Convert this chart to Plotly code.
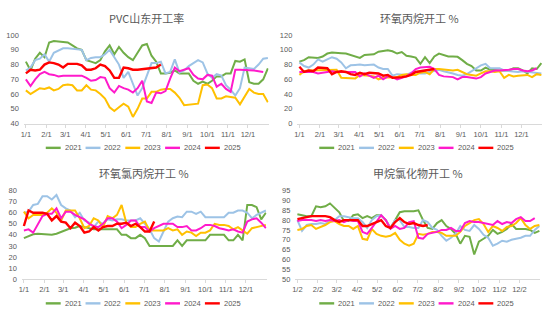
import plotly.graph_objects as go

# ---- weekly operating-rate data (%), one list per year ----
years = ["2021", "2022", "2023", "2024", "2025"]
colors = ["#70AD47", "#9DC3E6", "#FFC000", "#FF1ACB", "#FF0000"]

pvc_2021 = [82, 76, 84, 88, 85, 95, 96, 95.5, 95.5, 95, 93, 91, 90, 83, 82, 81, 83, 89, 93, 87,
            92, 88, 85, 83, 88, 93, 94, 86, 82, 74, 74, 74.5, 76, 74, 74, 74, 69, 67, 68.5, 67,
            69, 72, 72, 74, 74, 82.5, 82, 83.5, 68, 67, 67, 70, 77.5]
pvc_2022 = [76, 78, 83, 84, 87, 82, 88, 89.5, 91, 91, 90.5, 90.5, 90, 83, 84.5, 85, 85, 87, 90, 85,
            80, 71, 75, 67, 59, 64, 72, 81, 81, 82, 74, 75, 83.5, 74.5, 76, 79, 81, 83, 81.5, 74,
            71, 73.5, 72.5, 66, 63, 59, 64, 78, 77.5, 77, 80, 84, 84.5]
pvc_2023 = [62.5, 60, 62, 64, 63.5, 64.5, 62.5, 63.5, 66, 66.5, 66, 62.5, 62.5, 66, 63, 62.5, 60, 57,
            51, 48.5, 51, 53.5, 51.5, 44.5, 50, 57, 57, 61.5, 61.5, 63, 63.5, 63.5, 61, 57.5, 52.5, 53,
            53.5, 53.5, 66, 66.5, 64, 57, 57, 58.5, 58, 57.5, 53, 58, 63.5, 61, 60, 60, 54.5]
pvc_2024 = [70, 65.5, 70, 73.5, 75, 73.5, 73, 72, 72.5, 72.5, 72, 72, 72.5, 71, 69, 69.5, 71.5, 71,
            64, 61, 65.5, 64, 63, 61, 64, 69, 55, 54, 61, 60.5, 62, 70.5, 78, 75.5, 76.5, 77.5, 73,
            70.5, 70, 73, 72.5, 65, 67, 63.5, 61.5, 76.5, 76.5, 76.5, 76.5, 76, 75.5, 75]
pvc_2025 = [74, 76.5, 76, 76.5, 80, 81.5, 81, 80, 78, 80.5, 80.5, 80.5, 79.5, 76.5, 76.5, 77.5, 80,
            79, 76, 71, 71, 78, 77.5, 76.5, 76.5, 77, 77, 77.5, 78, 80]

po_2021 = [84, 86, 90, 89.5, 89, 91, 95, 96.5, 96.5, 95.5, 95, 93, 91, 89, 93, 94, 94, 97.5, 99, 99.5,
           98, 95, 97, 92, 91, 89.5, 81, 90, 82, 91, 95, 93, 91, 91, 90.5, 86, 81, 78, 72, 72,
           76, 73, 72, 72, 72, 72, 75, 75, 72, 68, 75, 74, 82]
po_2022 = [83, 78, 76, 80, 87, 84, 87, 90, 88, 83, 75, 79, 79.5, 80, 79, 79, 80, 76, 74, 74, 65, 67,
           67, 66, 69, 70, 68, 68, 70, 72, 73, 71, 70, 68, 66, 65, 67, 71, 76, 79, 81, 75, 75, 75,
           72, 71, 70, 70, 71, 70, 70, 69, 68]
po_2023 = [66, 71, 72, 72, 72, 73, 72, 72, 73, 62, 62, 62, 61, 66, 66, 65, 64, 60, 62, 62, 62, 63,
           66, 67, 66, 66, 69, 70, 67, 74, 74, 73, 72, 72, 73, 70, 67, 66, 65, 68, 71, 71, 70, 71,
           62, 66, 64, 65, 66, 66, 63, 67, 66]
po_2024 = [70, 70, 69, 70, 68, 69, 70, 71, 70, 70, 71, 71, 70, 64, 68, 65, 62, 65, 60, 64, 63, 60,
           62, 64, 68, 74, 76, 77, 77, 74, 66, 64, 64, 63, 60, 63, 63, 62, 61, 63, 68, 70, 72, 72,
           72, 73, 74, 74, 72, 71, 72, 75]
po_2025 = [77, 70, 72, 71, 76, 76, 75, 67, 70, 71, 70, 67, 66, 69, 67, 69, 69, 68, 65, 66, 62, 62,
           63, 64, 66, 70, 71, 71, 72, 74]

ech_2021 = [37, 39, 40.5, 41, 40.5, 40, 40, 41, 42.5, 44, 46, 46.5, 48, 47, 46, 45, 45, 45, 45, 45,
            45, 40, 40, 37, 37, 40, 37, 30, 30, 30, 30, 30, 30, 35, 30, 35, 35, 35, 35, 35, 40, 40,
            40, 40, 35, 35, 40, 35, 67, 67, 65, 54, 60]
ech_2022 = [60, 61, 67, 68, 75, 75, 72, 76, 67, 64, 62, 56, 60, 53, 51, 47, 52, 50, 54, 53, 54, 54,
            53, 53, 53, 55, 50, 45, 37, 34, 43, 52, 55, 56.5, 56, 61, 61, 59, 61, 56, 56, 56, 56, 56,
            60, 60, 62, 62, 60, 55, 58, 60, 62]
ech_2023 = [61, 55, 58, 58, 58, 60, 64, 60, 53, 62, 62, 62, 55, 46, 48, 55, 53, 47, 57, 55, 58, 67,
            51, 47, 47, 50, 52, 44, 44, 44, 44, 46, 44, 45, 40, 43, 42, 39, 42, 42, 44, 50, 49, 49,
            48, 45, 47, 44, 41, 46, 47, 48, 49]
ech_2024 = [44, 45, 42, 50, 57, 59, 59, 64, 55, 61, 61, 58, 56, 54, 50, 48, 47, 50, 55, 55, 52, 46,
            49, 53, 53, 47, 47, 43, 46, 48, 50, 50, 50, 47, 47, 48, 44, 44, 46, 49, 49, 48, 46, 45,
            44, 45, 43, 42, 52, 54, 55, 51, 46]
ech_2025 = [48, 62, 60, 60, 60, 59, 53, 57, 52, 51, 46, 51, 48, 42, 43, 47, 44, 47, 48, 48, 50, 50,
            51, 48, 50, 47, 43, 43, 52]

cm_2021 = [83, 82.5, 82, 82, 87, 86.5, 87, 88.5, 86, 84, 79.5, 79.5, 82.5, 83, 81, 82, 81, 82.5, 82.5,
           80, 76, 80, 84, 84.5, 84.5, 84.5, 85, 80, 76, 75.5, 78.5, 80, 77, 75.5, 73, 68, 72, 71.5,
           62.5, 69, 70.5, 72, 75, 73, 74, 75.5, 78, 75.5, 75.5, 75.5, 75, 73.5, 74.5]
cm_2022 = [80, 74.5, 77.5, 78, 78, 78.5, 78, 80, 80, 82, 82, 81.5, 81, 81, 79, 76, 80, 82, 82.5, 80,
           76, 80, 80, 76.5, 76.5, 76, 76, 80, 79, 76, 75, 72, 69.5, 71, 73, 77, 75, 74.5, 77.5, 75.5,
           72.5, 71, 67, 68, 69.5, 69, 70, 70.5, 71, 72, 72, 75, 77]
cm_2023 = [75, 75.5, 77, 77.5, 75.5, 76.5, 77.5, 79, 79.5, 78, 77, 77, 75.5, 77, 70.5, 70, 75.5, 73,
           72, 71.5, 72, 73.5, 70, 68, 67, 68, 73, 72.5, 73, 74, 74, 73.5, 72, 72, 72, 74, 77, 78.5,
           80, 80.5, 78, 74, 77, 76, 74.5, 76.5, 77, 78.5, 81, 77.5, 75.5, 77, 77.5]
cm_2024 = [79.5, 80, 80, 80, 79.5, 80, 79.5, 80, 79.5, 80, 79, 80, 79.5, 79.5, 74, 73, 76, 79, 82.5,
           80, 75.5, 77, 75.5, 76, 79, 79.5, 71, 70.5, 73, 73.5, 74, 75, 75, 76, 74.5, 74.5, 78.5,
           79.5, 79, 79, 78.5, 78, 77.5, 79.5, 78, 79, 78.5, 80.5, 81.5, 79.5, 79.5, 81]
cm_2025 = [80.5, 81, 81.5, 82, 82, 82, 82, 81.5, 80, 79, 80, 80, 80, 80, 77, 77, 78, 79, 80, 77, 76,
           79, 81, 79, 78, 78.5, 77.5, 77, 77.5]

month_start_days = [0, 31, 59, 90, 120, 151, 181, 212, 243, 273, 304, 334]
month_labels_1st = ["1/1", "2/1", "3/1", "4/1", "5/1", "6/1", "7/1", "8/1", "9/1", "10/1", "11/1", "12/1"]
month_labels_2nd = ["1/2", "2/2", "3/2", "4/2", "5/2", "6/2", "7/2", "8/2", "9/2", "10/2", "11/2", "12/2"]

# panel definitions: title, series, y-axis range/step, day offset of first week, tick labels
panels = [
    dict(title="PVC山东开工率", data=[pvc_2021, pvc_2022, pvc_2023, pvc_2024, pvc_2025],
         yr=(40, 100), dy=10, off=0, labels=month_labels_1st,
         xd=(21, 267), yd=(32, 123), ty=14, ly=148, lx=43),
    dict(title="环氧丙烷开工 %", data=[po_2021, po_2022, po_2023, po_2024, po_2025],
         yr=(0, 120), dy=20, off=0, labels=month_labels_1st,
         xd=(296, 542), yd=(32, 123), ty=14, ly=148, lx=318),
    dict(title="环氧氯丙烷开工 %", data=[ech_2021, ech_2022, ech_2023, ech_2024, ech_2025],
         yr=(0, 80), dy=10, off=0, labels=month_labels_1st,
         xd=(19, 265), yd=(192, 283), ty=174, ly=308, lx=43),
    dict(title="甲烷氯化物开工 %", data=[cm_2021, cm_2022, cm_2023, cm_2024, cm_2025],
         yr=(50, 95), dy=5, off=1, labels=month_labels_2nd,
         xd=(294, 540), yd=(192, 283), ty=174, ly=308, lx=318),
]

W, H = 550, 321
AXIS_GREY = "#D9D9D9"
TEXT_GREY = "#595959"
TICK_FONT = dict(family="Liberation Sans, Arial", size=7.5, color=TEXT_GREY)

fig = go.Figure()
layout = dict(width=W, height=H, margin=dict(l=0, r=0, t=0, b=0),
              paper_bgcolor="white", plot_bgcolor="white", showlegend=False)
annotations = []
shapes = []

for k, p in enumerate(panels, start=1):
    sfx = "" if k == 1 else str(k)
    for name, col, vals in zip(years, colors, p["data"]):
        days = [p["off"] + 7 * i for i in range(len(vals))]
        fig.add_trace(go.Scatter(
            x=days, y=vals, mode="lines", name=name,
            line=dict(color=col, width=2.4 if name == "2025" else 2),
            xaxis="x" + sfx, yaxis="y" + sfx, hoverinfo="skip"))

    x0, x1 = p["xd"]
    y0, y1 = p["yd"]
    layout["xaxis" + sfx] = dict(
        domain=[x0 / W, x1 / W], range=[p["off"] - 3, p["off"] + 365], anchor="y" + sfx,
        tickvals=[d + p["off"] for d in month_start_days], ticktext=p["labels"],
        showline=True, linecolor=AXIS_GREY, linewidth=1, ticks="outside", ticklen=3,
        tickcolor=AXIS_GREY, showgrid=False, zeroline=False, tickfont=TICK_FONT, tickangle=0)
    lo, hi = p["yr"]
    layout["yaxis" + sfx] = dict(
        domain=[1 - y1 / H, 1 - y0 / H], range=[lo, hi], anchor="x" + sfx,
        tickmode="linear", tick0=lo, dtick=p["dy"], showline=False, showgrid=False,
        zeroline=False, ticks="", tickfont=TICK_FONT, ticklabelstandoff=4)

    # panel title
    annotations.append(dict(
        text=p["title"], x=(x0 + x1) / 2 / W, y=1 - p["ty"] / H, xref="paper", yref="paper",
        xanchor="center", yanchor="middle", showarrow=False,
        font=dict(family="Noto Sans CJK SC", size=11, color=TEXT_GREY)))

    # legend row under each panel
    for j, (name, col) in enumerate(zip(years, colors)):
        lx = p["lx"] + 40 * j
        ly = 1 - p["ly"] / H
        shapes.append(dict(type="line", xref="paper", yref="paper",
                           x0=lx / W, x1=(lx + 15) / W, y0=ly, y1=ly,
                           line=dict(color=col, width=2.4)))
        annotations.append(dict(
            text=name, x=(lx + 17) / W, y=ly, xref="paper", yref="paper",
            xanchor="left", yanchor="middle", showarrow=False,
            font=dict(family="Liberation Sans, Arial", size=7.5, color=TEXT_GREY)))

layout["annotations"] = annotations
layout["shapes"] = shapes
fig.update_layout(**layout)
fig.write_html("out.html")
